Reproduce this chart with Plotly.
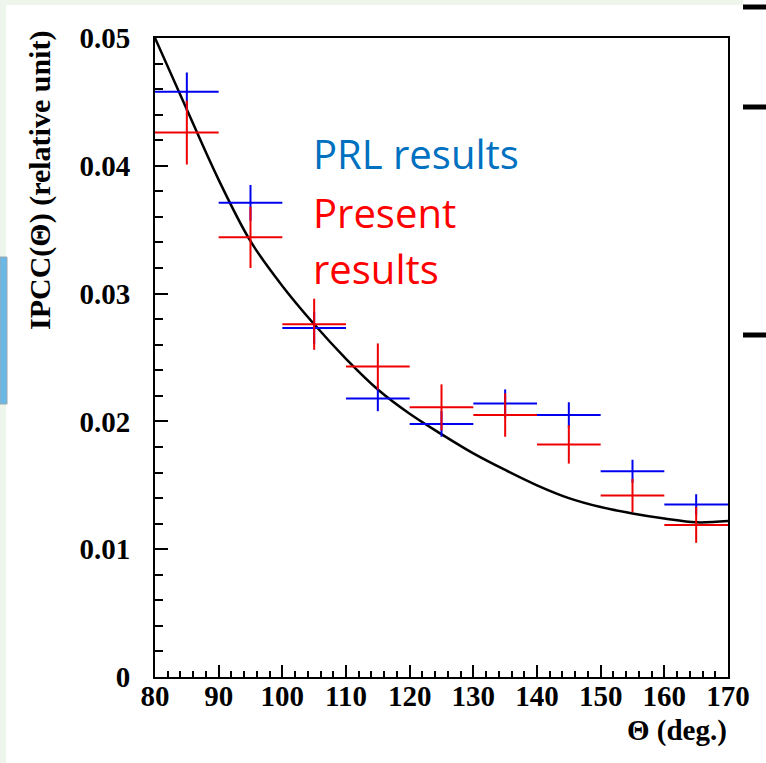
import plotly.graph_objects as go

# ---- data ----
bin_centers = [85, 95, 105, 115, 125, 135, 145, 155, 165]
bin_half_width = [5, 5, 5, 5, 5, 5, 5, 5, 5]

prl_values = [0.0458, 0.0371, 0.0273, 0.0218, 0.0198, 0.0214, 0.0205, 0.0161, 0.0135]
prl_errors = [0.0015, 0.0014, 0.00125, 0.0010, 0.0010, 0.0011, 0.0010, 0.0009, 0.0008]

present_values = [0.0426, 0.0344, 0.0276, 0.0243, 0.0211, 0.0205, 0.0182, 0.0142, 0.0119]
present_errors = [0.0025, 0.0024, 0.0020, 0.0018, 0.0018, 0.0017, 0.0015, 0.0013, 0.0014]

curve_theta = [80, 85, 90, 95, 100, 105, 110, 115, 120, 125, 130, 135,
               140, 145, 150, 155, 160, 165, 170]
curve_values = [0.0500, 0.0444, 0.0389, 0.0341, 0.0306, 0.0276, 0.0249, 0.0225,
                0.0206, 0.0190, 0.0175, 0.0162, 0.0150, 0.0140, 0.0133, 0.0128,
                0.0124, 0.0121, 0.0122]

x_tickvals = [80, 90, 100, 110, 120, 130, 140, 150, 160, 170]
x_ticktext = ["80", "90", "100", "110", "120", "130", "140", "150", "160", "170"]
y_tickvals = [0, 0.01, 0.02, 0.03, 0.04, 0.05]
y_ticktext = ["0", "0.01", "0.02", "0.03", "0.04", "0.05"]

label_prl = "PRL results"
label_present = ["Present", "results"]
x_title = "Θ (deg.)"
y_title = "IPCC(Θ) (relative unit)"

# ---- layout geometry (pixels) ----
W, H = 766, 763
L, R, T, B = 155, 38, 38, 86
PW, PH = W - L - R, H - T - B


def px(xp):
    return (xp - L) / PW


def py(yp):
    return (H - B - yp) / PH


BLUE = "#0000ee"
RED = "#ee0000"

fig = go.Figure()

fig.add_trace(go.Scatter(
    x=curve_theta, y=curve_values, mode="lines",
    line=dict(color="black", width=2.5, shape="spline", smoothing=1.0),
    showlegend=False, hoverinfo="skip"))

fig.add_trace(go.Scatter(
    x=bin_centers, y=prl_values, mode="markers",
    marker=dict(size=1, color=BLUE, opacity=0),
    error_x=dict(type="data", array=bin_half_width, color=BLUE, thickness=2, width=0),
    error_y=dict(type="data", array=prl_errors, color=BLUE, thickness=2, width=0),
    showlegend=False))

fig.add_trace(go.Scatter(
    x=bin_centers, y=present_values, mode="markers",
    marker=dict(size=1, color=RED, opacity=0),
    error_x=dict(type="data", array=bin_half_width, color=RED, thickness=2, width=0),
    error_y=dict(type="data", array=present_errors, color=RED, thickness=2, width=0),
    showlegend=False))

tickfont = dict(family="Liberation Serif", size=29, color="black", weight="bold")

fig.update_xaxes(
    range=[80, 170], tickvals=x_tickvals, ticktext=x_ticktext,
    ticks="inside", ticklen=12, tickwidth=2, tickcolor="black",
    minor=dict(dtick=2, tick0=80, ticks="inside", ticklen=6, tickwidth=2, tickcolor="black"),
    showline=True, linecolor="black", linewidth=2, mirror=True,
    showgrid=False, zeroline=False, tickfont=tickfont, ticklabelstandoff=-8)

fig.update_yaxes(
    range=[0, 0.05], tickvals=y_tickvals, ticktext=y_ticktext,
    ticks="inside", ticklen=13, tickwidth=2, tickcolor="black",
    minor=dict(dtick=0.002, tick0=0, ticks="inside", ticklen=8, tickwidth=2, tickcolor="black"),
    showline=True, linecolor="black", linewidth=2, mirror=True,
    showgrid=False, zeroline=False, tickfont=tickfont, ticklabelstandoff=17)

shapes = [
    # light green frame strips
    dict(type="rect", xref="paper", yref="paper", x0=px(0), x1=px(743), y0=py(0), y1=py(5),
         fillcolor="#eef5ea", line=dict(width=0), layer="below"),
    dict(type="rect", xref="paper", yref="paper", x0=px(0), x1=px(6), y0=py(0), y1=py(763),
         fillcolor="#eef5ea", line=dict(width=0), layer="below"),
    # blue box on the left edge
    dict(type="rect", xref="paper", yref="paper", x0=px(0), x1=px(7), y0=py(257), y1=py(404),
         fillcolor="#6ab8e6", line=dict(color="#9aa8b0", width=1), layer="below"),
]
for yy in [7, 107, 335]:
    shapes.append(dict(type="line", xref="paper", yref="paper", x0=px(743), x1=px(766),
                       y0=py(yy), y1=py(yy), line=dict(color="black", width=5)))

annotations = [
    dict(text=y_title, xref="paper", yref="paper", x=px(40), y=py(181), textangle=-90,
         showarrow=False, xanchor="center", yanchor="middle",
         font=dict(family="Liberation Serif", size=30, color="black", weight="bold")),
    dict(text=x_title, xref="paper", yref="paper", x=px(729), y=py(731),
         showarrow=False, xanchor="right", yanchor="middle",
         font=dict(family="Liberation Serif", size=29, color="black", weight="bold")),
    dict(text=label_prl, xref="paper", yref="paper", x=px(311), y=py(154),
         showarrow=False, xanchor="left", yanchor="middle",
         font=dict(family="Open Sans", size=40, color="#0070c0")),
    dict(text=label_present[0], xref="paper", yref="paper", x=px(311), y=py(212),
         showarrow=False, xanchor="left", yanchor="middle",
         font=dict(family="Open Sans", size=40, color="#ff0000")),
    dict(text=label_present[1], xref="paper", yref="paper", x=px(311), y=py(268),
         showarrow=False, xanchor="left", yanchor="middle",
         font=dict(family="Open Sans", size=40, color="#ff0000")),
]

fig.update_layout(
    width=W, height=H, margin=dict(l=L, r=R, t=T, b=B, pad=0),
    paper_bgcolor="white", plot_bgcolor="white",
    shapes=shapes, annotations=annotations, showlegend=False)

fig.write_html("out.html")
